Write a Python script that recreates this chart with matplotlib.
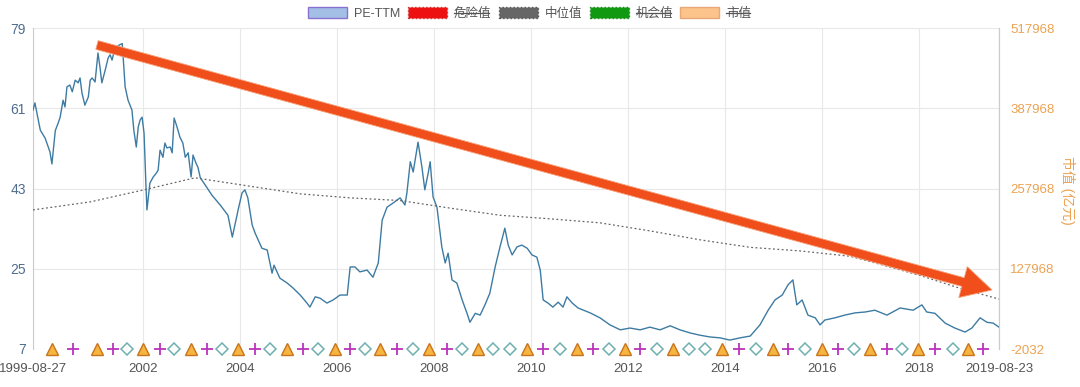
import matplotlib
matplotlib.use('Agg')
import matplotlib.pyplot as plt
import matplotlib.patches as mpatches
from matplotlib.transforms import IdentityTransform

plt.rcParams['font.family'] = ['Liberation Sans', 'Noto Sans CJK SC']

# PE-TTM (decimal year, value)
pe_dates = [1999.73, 1999.77, 1999.88, 1999.98, 2000.08, 2000.12, 2000.19, 2000.25, 2000.29, 2000.35,
            2000.39, 2000.43, 2000.49, 2000.54, 2000.60, 2000.66, 2000.70, 2000.74, 2000.80, 2000.87,
            2000.91, 2000.95, 2001.01, 2001.07, 2001.11, 2001.15, 2001.22, 2001.28, 2001.32, 2001.36,
            2001.40, 2001.44, 2001.51, 2001.57, 2001.63, 2001.69, 2001.77, 2001.81, 2001.86, 2001.90,
            2001.94, 2001.98, 2002.02, 2002.06, 2002.08, 2002.14, 2002.21, 2002.27, 2002.31, 2002.35,
            2002.41, 2002.45, 2002.49, 2002.56, 2002.60, 2002.64, 2002.70, 2002.76, 2002.82, 2002.87,
            2002.93, 2002.99, 2003.03, 2003.09, 2003.13, 2003.18, 2003.28, 2003.42, 2003.59, 2003.75,
            2003.84, 2003.96, 2004.04, 2004.10, 2004.16, 2004.25, 2004.31, 2004.45, 2004.56, 2004.66,
            2004.70, 2004.82, 2004.97, 2005.09, 2005.24, 2005.38, 2005.44, 2005.55, 2005.65, 2005.79,
            2005.92, 2006.06, 2006.21, 2006.27, 2006.37, 2006.47, 2006.62, 2006.74, 2006.85, 2006.93,
            2007.03, 2007.15, 2007.30, 2007.40, 2007.44, 2007.51, 2007.57, 2007.67, 2007.75, 2007.81,
            2007.88, 2007.92, 2007.98, 2008.06, 2008.16, 2008.23, 2008.29, 2008.37, 2008.47, 2008.58,
            2008.68, 2008.74, 2008.85, 2008.95, 2009.05, 2009.15, 2009.26, 2009.36, 2009.46, 2009.53,
            2009.61, 2009.71, 2009.81, 2009.92, 2010.02, 2010.12, 2010.19, 2010.25, 2010.35, 2010.45,
            2010.56, 2010.66, 2010.74, 2010.85, 2010.97, 2011.22, 2011.42, 2011.63, 2011.84, 2012.04,
            2012.25, 2012.45, 2012.66, 2012.87, 2013.07, 2013.28, 2013.48, 2013.69, 2013.90, 2014.10,
            2014.31, 2014.52, 2014.72, 2014.89, 2015.03, 2015.18, 2015.30, 2015.40, 2015.48, 2015.59,
            2015.71, 2015.86, 2015.96, 2016.06, 2016.27, 2016.47, 2016.68, 2016.89, 2017.09, 2017.34,
            2017.61, 2017.88, 2018.06, 2018.16, 2018.33, 2018.54, 2018.74, 2018.95, 2019.09, 2019.26,
            2019.40, 2019.53, 2019.65]
pe_values = [60.6, 62.2, 56.1, 54.3, 51.2, 48.5, 56.0, 57.7, 59.0, 62.8,
             61.3, 65.8, 66.2, 64.7, 67.3, 66.7, 67.8, 64.4, 61.7, 63.5,
             67.3, 67.8, 66.9, 73.4, 70.3, 66.7, 69.6, 72.3, 73.0, 71.8,
             73.6, 74.5, 75.2, 75.5, 65.8, 62.8, 60.6, 56.0, 52.3, 56.8,
             58.4, 59.0, 55.4, 43.4, 38.2, 44.2, 45.6, 46.4, 47.1, 51.6,
             50.0, 53.2, 52.1, 52.3, 51.0, 58.8, 56.8, 54.5, 53.2, 50.0,
             51.0, 45.6, 50.5, 48.7, 47.8, 45.4, 43.8, 41.5, 39.3, 37.0,
             32.1, 38.2, 42.0, 42.7, 40.9, 34.8, 33.0, 29.6, 29.2, 24.0,
             25.8, 22.9, 21.8, 20.7, 19.1, 17.3, 16.4, 18.7, 18.4, 17.3,
             18.0, 19.1, 19.1, 25.4, 25.4, 24.3, 24.7, 23.1, 26.3, 35.9,
             38.8, 39.7, 40.9, 39.3, 42.0, 49.0, 46.7, 53.4, 47.8, 42.7,
             46.5, 49.0, 41.1, 38.8, 29.9, 26.3, 28.5, 22.5, 21.8, 18.0,
             15.0, 13.0, 15.0, 14.6, 16.9, 19.5, 25.4, 29.9, 34.1, 30.3,
             28.1, 29.9, 30.3, 29.6, 28.1, 27.6, 24.7, 18.0, 17.3, 16.4,
             17.5, 16.4, 18.7, 17.3, 16.2, 15.1, 14.0, 12.4, 11.3, 11.7,
             11.3, 11.9, 11.3, 12.2, 11.3, 10.6, 10.1, 9.7, 9.5, 9.0,
             9.5, 9.9, 12.4, 15.7, 18.0, 19.1, 21.4, 22.5, 16.9, 18.0,
             14.6, 14.0, 12.4, 13.5, 14.0, 14.6, 15.1, 15.3, 15.7, 14.6,
             16.2, 15.7, 16.9, 15.3, 15.0, 12.8, 11.7, 10.8, 11.7, 14.0,
             13.0, 12.8, 11.9]

# 中位值 (dotted)
median_dates = [1999.73, 2000.91, 2002.02, 2003.07, 2004.21, 2005.24, 2006.27, 2007.30, 2008.33,
                2009.36, 2010.39, 2011.42, 2012.45, 2013.48, 2014.52, 2015.55, 2016.58, 2017.20,
                2018.02, 2018.85, 2019.65]
median_values = [38.2, 40.0, 42.7, 45.4, 43.5, 41.8, 40.9, 40.3, 38.6,
                 37.0, 36.2, 35.3, 33.5, 31.5, 29.8, 29.0, 27.8, 26.0,
                 23.5, 20.6, 18.2]

# bottom markers
tri_dates = [2000.12, 2001.05, 2002.00, 2002.99, 2003.96, 2004.97, 2005.96, 2006.89, 2007.90, 2008.91,
             2009.92, 2010.95, 2011.94, 2012.93, 2013.94, 2014.99, 2016.00, 2016.99, 2017.98, 2019.01]
plus_dates = [2000.56, 2001.38, 2002.35, 2003.32, 2004.31, 2005.30, 2006.27, 2007.24, 2008.27,
              2010.25, 2011.28, 2012.25, 2014.29, 2015.30, 2016.33, 2017.34, 2018.33, 2019.32]
diamond_dates = [2001.67, 2002.64, 2003.63, 2004.62, 2005.61, 2006.58, 2007.57, 2008.58, 2009.22, 2009.57,
                 2010.60, 2011.61, 2012.60, 2013.26, 2013.59, 2014.64, 2015.65, 2016.66, 2017.65, 2018.70]

x_start, x_end = 1999.73, 2019.65
year_ticks = [2002, 2004, 2006, 2008, 2010, 2012, 2014, 2016, 2018]
left_ticks = [7, 25, 43, 61, 79]
right_ticks = [-2032, 127968, 257968, 387968, 517968]

fig = plt.figure(figsize=(10.8, 3.87), dpi=100)
fig.patch.set_facecolor('white')
ax = fig.add_axes([33 / 1080, 1 - 349 / 387, 966 / 1080, 321 / 387])

ax.plot(pe_dates, pe_values, color='#3d7ba3', lw=1.0, zorder=3)
ax.plot(median_dates, median_values, color='#666666', lw=0.9, ls=(0, (1.5, 2)), zorder=3)

ax.plot(tri_dates, [7] * len(tri_dates), ls='none', marker='^', ms=8,
        mfc='#f5b53f', mec='#c8741c', mew=1.0, clip_on=False, zorder=5)
ax.plot(plus_dates, [7] * len(plus_dates), ls='none', marker='+', ms=8.5,
        mec='#bb33bb', mew=1.3, clip_on=False, zorder=5)
ax.plot(diamond_dates, [7] * len(diamond_dates), ls='none', marker='D', ms=6.2,
        mfc='white', mec='#6fb0b0', mew=1.1, clip_on=False, zorder=5)

ax.set_xlim(x_start, x_end)
ax.set_ylim(7, 79)
ax.set_xticks([x_start] + year_ticks + [x_end])
ax.set_xticklabels(['1999-08-27'] + [str(y) for y in year_ticks] + ['2019-08-23'])
ax.set_yticks(left_ticks)
ax.grid(True, color='#e8e8e8', lw=0.8, zorder=0)
ax.tick_params(axis='x', length=0, pad=10, labelsize=9.5, labelcolor='#555555')
ax.tick_params(axis='y', length=0, pad=5, labelsize=10, labelcolor='#4f6d8f')
for s in ['top', 'bottom']:
    ax.spines[s].set_visible(False)
ax.spines['left'].set_color('#cccccc')
ax.spines['right'].set_color('#cccccc')

ax2 = ax.twinx()
ax2.set_ylim(-2032, 517968)
ax2.set_yticks(right_ticks)
ax2.set_yticklabels([str(t) for t in right_ticks])
ax2.tick_params(axis='y', length=0, pad=8, labelsize=9.5, labelcolor='#eba252')
for s in ['top', 'bottom', 'left']:
    ax2.spines[s].set_visible(False)
ax2.spines['right'].set_color('#cccccc')
fig.text(1068 / 1080, 1 - 190 / 387, '市值 (亿元)', rotation=270, ha='center', va='center',
         fontsize=10, color='#eba252')

# legend (危险值, 机会值, 市值 shown as switched off)
legend_items = [('PE-TTM', '#a4bfe6', '#8a70cf', False, '-'),
                ('危险值', '#ee1111', '#cc3333', True, ':'),
                ('中位值', '#666666', '#555555', False, ':'),
                ('机会值', '#119911', '#228822', True, ':'),
                ('市值', '#fcc38a', '#e8a878', True, '-')]
box_x = [308, 408, 499, 590, 680]
for (label, fc, ec, off, ls), bx in zip(legend_items, box_x):
    fig.patches.append(mpatches.Rectangle((bx / 1080, 1 - 18 / 387), 39 / 1080, 11 / 387,
                                          transform=fig.transFigure, facecolor=fc, edgecolor=ec,
                                          lw=1.0, ls=ls))
    fig.text((bx + 46) / 1080, 1 - 17 / 387, label, ha='left', va='baseline',
             fontsize=9, color='#555555')
    if off:
        w = 35 if len(label) == 3 else 24
        fig.lines.append(plt.Line2D([(bx + 46) / 1080, (bx + 46 + w) / 1080],
                                    [1 - 12.5 / 387, 1 - 12.5 / 387],
                                    transform=fig.transFigure, color='#555555', lw=0.9))

# trend arrow overlay
arrow = mpatches.FancyArrow(97, 387 - 45, 895, -245, width=9, head_width=32, head_length=30,
                            length_includes_head=True, transform=IdentityTransform(),
                            facecolor='#f04f1c', edgecolor='#f7a07a', lw=0.6, zorder=10)
fig.patches.append(arrow)

fig.savefig('out.png', dpi=100, facecolor='white')
